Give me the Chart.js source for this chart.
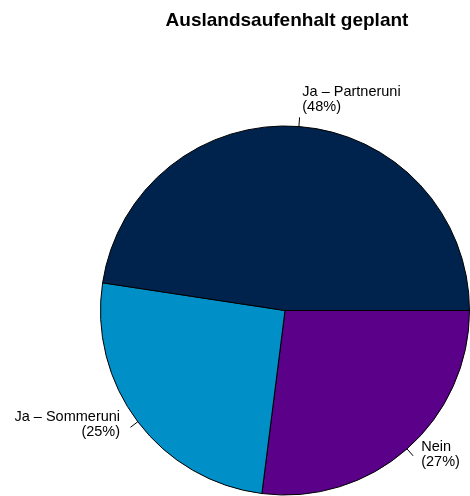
<!DOCTYPE html>
<html>
<head>
<meta charset="utf-8">
<script src="https://cdn.jsdelivr.net/npm/chart.js@4"></script>
<style>
  html, body { margin: 0; padding: 0; background: #ffffff; }
  #wrap { width: 470px; height: 496px; position: relative; }
</style>
</head>
<body>
<div id="wrap"><canvas id="pie" width="470" height="496"></canvas></div>
<script>
/* ── Data (R pie order: counter-clockwise from 3 o'clock) ── */
var titleText = "Auslandsaufenhalt geplant";
var categories = ["Ja – Partneruni", "Ja – Sommeruni", "Nein"];
var shares = [47.6, 25.4, 27.0];
var sliceColors = ["#00234d", "#008fc6", "#5a0089"];

/* Chart.js draws clockwise, so feed the slices reversed */
var chartLabels = categories.slice().reverse();
var chartValues = shares.slice().reverse();
var chartColors = sliceColors.slice().reverse();

/* ── Title + outside labels with leader ticks ── */
var pieLabels = {
  id: "pieLabels",
  afterDraw: function (chart) {
    var ctx = chart.ctx;
    ctx.save();
    ctx.fillStyle = "#000000";
    ctx.font = "bold 19px 'Liberation Sans', Arial, sans-serif";
    ctx.textAlign = "center";
    ctx.textBaseline = "alphabetic";
    ctx.fillText(titleText, 287, 26);

    var arcs = chart.getDatasetMeta(0).data;
    ctx.font = "14.5px 'Liberation Sans', Arial, sans-serif";
    ctx.strokeStyle = "#000000";
    ctx.lineWidth = 1;
    arcs.forEach(function (arc, i) {
      var mid = (arc.startAngle + arc.endAngle) / 2;
      var r = arc.outerRadius;
      var cx = Math.cos(mid), cy = Math.sin(mid);
      ctx.beginPath();
      ctx.moveTo(arc.x + cx * r, arc.y + cy * r);
      ctx.lineTo(arc.x + cx * r * 1.05, arc.y + cy * r * 1.05);
      ctx.stroke();
      var lx = arc.x + cx * r * 1.1;
      var ly = arc.y + cy * r * 1.1;
      var right = cx >= 0;
      ctx.textAlign = right ? "left" : "right";
      lx += right ? 2 : -3;
      ctx.fillText(chartLabels[i], lx, ly - 12);
      ctx.fillText("(" + Math.round(chartValues[i]) + "%)", lx, ly + 3);
    });
    ctx.restore();
  }
};

new Chart(document.getElementById("pie").getContext("2d"), {
  type: "pie",
  data: {
    labels: chartLabels,
    datasets: [{
      data: chartValues,
      backgroundColor: chartColors,
      borderColor: "#000000",
      borderWidth: 1,
      hoverOffset: 0
    }]
  },
  options: {
    responsive: false,
    animation: false,
    rotation: 90,
    layout: { padding: { left: 100, right: 0, top: 125, bottom: 0 } },
    plugins: {
      legend: { display: false },
      title: { display: false },
      tooltip: { enabled: false }
    }
  },
  plugins: [pieLabels]
});
</script>
</body>
</html>
